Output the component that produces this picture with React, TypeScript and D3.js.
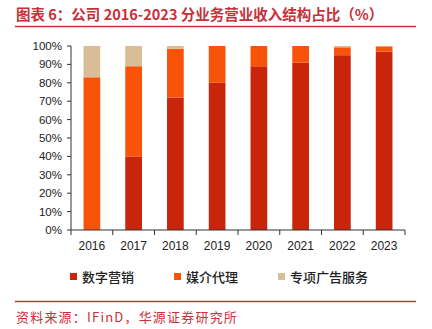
import React from "react";
import * as d3 from "d3";

const years = ["2016", "2017", "2018", "2019", "2020", "2021", "2022", "2023"];
const digital = [0, 40, 72, 80, 89, 91, 95, 97];
const media = [83, 49, 26.5, 20, 11, 9, 4.3, 2.8];
const special = [17, 11, 1.5, 0, 0, 0, 0.7, 0.2];
const seriesNames = ["数字营销", "媒介代理", "专项广告服务"];
const seriesColors = ["#C8250B", "#F95309", "#D8BD96"];
const yTicks = [0, 10, 20, 30, 40, 50, 60, 70, 80, 90, 100];

export default function App() {
  const W = 432, H = 329;
  const left = 71, right = 405, top = 46, bottom = 230;
  const x = d3.scaleBand().domain(years).range([left, right]).paddingInner(0.6).paddingOuter(0.3);
  const xb = d3.scaleBand().domain(years).range([left, right]);
  const y = d3.scaleLinear().domain([0, 100]).range([bottom, top]);
  const rows = years.map((yr, i) => ({ yr, digital: digital[i], media: media[i], special: special[i] }));
  const stack = d3.stack<any>().keys(["digital", "media", "special"])(rows);
  const red = "#C9303A";
  return (
    <svg width={W} height={H} style={{ position: "absolute", left: 0, top: 0, background: "#fff" }}>
      <text x={16} y={20} fontFamily="Noto Sans CJK SC" fontSize={14.5} fontWeight={700} fill={red}>
        图表 6：公司 2016-2023 分业务营业收入结构占比（%）
      </text>
      <line x1={15} x2={416} y1={26.5} y2={26.5} stroke={red} strokeWidth={1.5} />
      {stack.map((s, si) =>
        s.map((d, i) =>
          d[1] - d[0] > 0 ? (
            <rect key={si + "-" + i} x={x(years[i])} width={x.bandwidth()} y={y(d[1])} height={y(d[0]) - y(d[1])} fill={seriesColors[si]} />
          ) : null
        )
      )}
      <line x1={left} x2={left} y1={top} y2={bottom} stroke="#333" />
      <line x1={left} x2={right} y1={bottom} y2={bottom} stroke="#333" />
      {yTicks.map((t) => (
        <g key={t}>
          <line x1={left - 4} x2={left} y1={y(t)} y2={y(t)} stroke="#333" />
          <text x={62} y={y(t) + 4} textAnchor="end" fontFamily="Liberation Sans" fontSize={11.5} fill="#222">
            {t}%
          </text>
        </g>
      ))}
      {years.map((yr) => (
        <g key={yr}>
          <line x1={xb(yr)} x2={xb(yr)} y1={bottom} y2={bottom + 5} stroke="#333" />
          <text x={xb(yr)! + xb.bandwidth() / 2} y={bottom + 20} textAnchor="middle" fontFamily="Liberation Sans" fontSize={12} fill="#222">
            {yr}
          </text>
        </g>
      ))}
      <line x1={right} x2={right} y1={bottom} y2={bottom + 5} stroke="#333" />
      {seriesNames.map((n, i) => {
        const lx = [70, 174, 278][i];
        return (
          <g key={n}>
            <rect x={lx} y={273} width={7} height={7} fill={seriesColors[i]} />
            <text x={lx + 12} y={281.5} fontFamily="Noto Sans CJK SC" fontSize={13} fontWeight={500} fill="#222">
              {n}
            </text>
          </g>
        );
      })}
      <line x1={15} x2={416} y1={301.5} y2={301.5} stroke={red} strokeWidth={1.5} />
      <text x={16} y={322} fontFamily="Noto Sans CJK SC" fontSize={13} letterSpacing={1.2} fill={red}>
        资料来源：IFinD，华源证券研究所
      </text>
    </svg>
  );
}
